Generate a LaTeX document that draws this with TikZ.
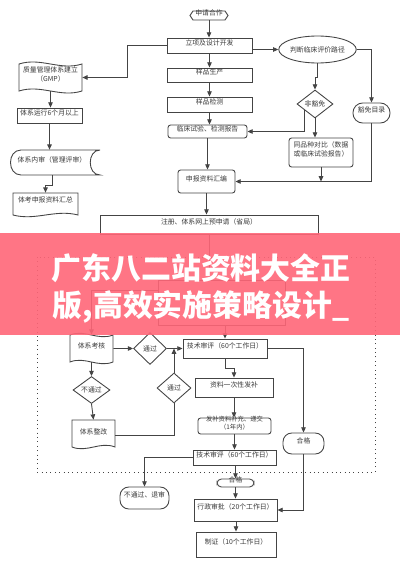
\documentclass[tikz,border=0pt]{standalone}
\usepackage{fontspec}
\setmainfont{Noto Sans CJK SC}
\usetikzlibrary{shapes.geometric,arrows.meta,fit,calc}
\definecolor{lc}{HTML}{444444}
\definecolor{tc}{HTML}{3A3A3A}
\definecolor{bannerpink}{RGB}{255,102,120}
\newcommand\pxu{0.02cm}
\newcommand\fs{\fontsize{3.9}{4.8}\selectfont}
\newcommand\fss{\fontsize{3.6}{4.4}\selectfont}
\newcommand\tapeshape[5]{%
  \draw[ln,fill=white] (#1,#2) .. controls ({#1+0.35*(#3-#1)},{#2-#5}) and ({#1+0.65*(#3-#1)},{#2+#5}) .. (#3,#2)
    -- (#3,#4) .. controls ({#1+0.65*(#3-#1)},{#4+#5}) and ({#1+0.35*(#3-#1)},{#4-#5}) .. (#1,#4) -- cycle;}
\newcommand\docshape[5]{%
  \draw[ln,fill=white] (#1,#2) -- (#3,#2)
    -- (#3,#4) .. controls ({#1+0.65*(#3-#1)},{#4+#5}) and ({#1+0.35*(#3-#1)},{#4-#5}) .. (#1,#4) -- cycle;}
\tikzset{
  ln/.style={draw=lc, line width=0.5pt},
  arr/.style={ln, -{Triangle[length=3pt,width=2.6pt]}},
  txt/.style={inner sep=0pt, font=\fs, text=tc, align=center},
  box/.style={draw=lc, line width=0.5pt, fill=white, inner sep=0pt, font=\fs, text=tc, align=center},
  rbox/.style={box, rounded corners=1.5pt},
  stad/.style={box, rounded corners=5pt},
  dia/.style={diamond, draw=lc, line width=0.5pt, fill=white, inner sep=0pt, font=\fs, text=tc},
  ell/.style={ellipse, draw=lc, line width=0.5pt, fill=white, inner sep=0pt, font=\fs, text=tc},
}
\begin{document}
\begin{tikzpicture}[x=0.02cm,y=-0.02cm]
\useasboundingbox (0,0) rectangle (400,568);
\fill[white] (0,0) rectangle (400,568);

% dotted frame
\draw[draw=lc, line width=0.5pt, dotted] (37,257) rectangle (375,472);

% main column
\draw[ln,fill=white] (190,15.5) -- (193,11) -- (225,11) -- (228,15.5) -- (225,20) -- (193,20) -- cycle;
\node[txt, fit={(190,11)(228,20)}] (ap) {申请合作};
\node[box, fit={(167,38)(252,53)}] (lx) {立项及设计开发};
\node[box, fit={(167,68)(252,82)}] (yp) {样品生产};
\node[box, fit={(167,97)(252,112)}] (jc) {样品检测};
\node[rbox, fit={(168,125)(247,138)}] (lc) {临床试验、检测报告};
\node[rbox, fit={(178,170)(235,193)}] (hb) {申报资料汇编};
\node[box, fit={(100,215)(318,234)}] (zc) {注册、体系网上预申请（省局）};

% left column
\tapeshape{19}{64}{82}{91}{7}
\node[txt, fit={(19,64)(82,91)}] (gmp) {质量管理体系建立\\（GMP）};
\node[box, fit={(17,108)(82,123)}] (yx) {体系运行6个月以上};
\draw[ln,fill=white] (100,150) -- (21,150) .. controls (7,150) and (7,175) .. (21,175) -- (100,175) .. controls (87,175) and (87,150) .. (100,150);
\node[txt, fit={(10,150)(94,175)}] (ns) {体系内审（管理评审）};
\docshape{13}{193}{78}{215}{-6}
\node[txt, fit={(13,193)(78,213)}] (tk) {体考申报资料汇总};

% right column
\node[ell, minimum width=65*\pxu, minimum height=27*\pxu] (pd) at (317.5,49.5) {判断临床评价路径};
\node[dia, minimum width=36*\pxu, minimum height=28*\pxu] (fh) at (315,104) {非豁免};
\node[stad, rounded corners=5.5pt, fit={(353,103)(390,123)}] (hm) {豁免目录};
\node[rbox, fit={(289,138)(353,167)}] (tp) {同品种对比（数据\\或临床试验报告）};

% lower part
\node[box, fit={(158,280)(285,325)}] (hid) {};
\tapeshape{70}{335}{113}{362}{6}
\node[txt, fit={(70,335)(113,362)}] (kh) {体系考核};
\node[dia, minimum width=33*\pxu, minimum height=32*\pxu] (tg1) at (150,348.5) {通过};
\node[box, fit={(183,339)(267,358)}] (js1) {技术审评（60个工作日）};
\node[dia, minimum width=37*\pxu, minimum height=27*\pxu] (btg) at (91.5,390) {不通过};
\docshape{72}{420}{115}{447}{-6}
\node[txt, fit={(72,420)(115,450)}] (zg) {体系整改};
\node[dia, minimum width=34*\pxu, minimum height=30*\pxu] (tg2) at (174,388) {通过};
\node[box, fit={(195,378)(273,397)}] (zl) {资料一次性发补};
\node[rbox, font=\fss, fit={(198,418)(271,434)}] (fb) {发补资料补充、递交\\（1年内）};
\node[stad, fit={(283,433)(324,454)}] (hg) {合格};
\node[box, fit={(193,450)(276,465)}] (js2) {技术审评（60个工作日）};
\node[stad, fit={(120,487)(169,509)}] (tui) {不通过、退审};
\node[box, rounded corners=2.5pt, fit={(217,479)(254,487)}] (hg2) {合格};
\node[box, fit={(194,499)(277,521)}] (xz) {行政审批（20个工作日）};
\node[box, fit={(196,532)(276,557)}] (zz) {制证（10个工作日）};

% connectors: main column
\draw[arr] (ap.south) -- (ap.south |- lx.north);
\draw[arr] (lx.south) -- (lx.south |- yp.north);
\draw[arr] (yp.south) -- (yp.south |- jc.north);
\draw[arr] (jc.south) -- (jc.south |- lc.north);
\draw[arr] (lc.south) -- (lc.south |- hb.north);
\draw[arr] (hb.south) -- (hb.south |- zc.north);
% left column
\coordinate (k1) at (127,0);
\draw[arr] (lx.west) -- (lx.west -| k1) |- (gmp.east);
\draw[arr] (gmp.south) -- (gmp.south |- yx.north);
\draw[arr] (yx.south) -- (yx.south |- ns.north);
\draw[arr] (ns.south) -- ++(0,10) -| (tk.north);
% right column
\draw[arr] (lx.east |- pd.west) -- (pd.west);
\draw[arr] (pd.south) -- ++(0,14) -| (fh.north);
\draw[arr] (pd.east) -| (hm.north);
\draw[arr] (fh.south) -- (fh.south |- tp.north);
\draw[arr] ($(fh.west)!0.4!(fh.south)$) |- (lc.east);
\draw[arr] (tp.south) -- (tp.south |- hb.east);
\draw[arr] (hm.south) |- (hb.east);
% lower part
\draw[ln] (zc.south) -- (zc.south |- hid.north);
\coordinate (h1) at (0,290);
\draw[arr] (hid.west |- h1) -| (kh.north);
\draw[arr] (hid.south -| js1.north) -- (js1.north);
\draw[arr] (kh.east) -- (tg1.west);
\draw[arr] (tg1.east) -- (js1.west);
\draw[arr] (kh.south) -- (btg.north);
\draw[arr] (btg.south) -- (zg.north);
\draw[ln] (zg.east) -| (tg2.south);
\draw[arr] (tg2.north) -- (tg2.north |- tg1.east);
\draw[arr] (js1.south) -- ++(0,10) -| (zl.north);
\draw[arr] (zl.south) -- (zl.south |- fb.north);
\draw[arr] (js1.east) -| (hg.north);
\draw[arr] (fb.south) -- (fb.south |- js2.north);
\draw[arr] (js2.west) -| (tui.north);
\draw[arr] (js2.south -| hg2.north) -- (hg2.north);
\draw[arr] (hg2.south) -- (hg2.south |- xz.north);
\draw[arr] (hg.south) |- (xz.east);
\draw[arr] (xz.south -| zz.north) -- (zz.north);

% banner
\fill[bannerpink, opacity=0.9] (0,233) rectangle (400,335);
\node[text=white, font=\fontsize{17}{20}\selectfont\bfseries, inner sep=0pt] (b1) at (201,268) {广东八二站资料大全正};
\node[text=white, font=\fontsize{17}{20}\selectfont\bfseries, inner sep=0pt] (b2) at (201,307) {版,高效实施策略设计\_};
\end{tikzpicture}
\end{document}
